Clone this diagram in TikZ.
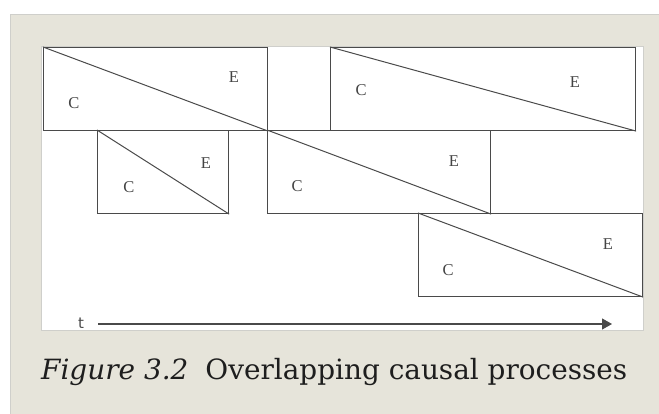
\documentclass[tikz,border=0pt]{standalone}
\usepackage{fontspec}
\setmainfont{Liberation Serif}
\newfontfamily\captionfont{DejaVu Serif}
\newfontfamily\axisfont{DejaVu Sans}
\usetikzlibrary{arrows.meta}
\definecolor{pagebg}{HTML}{E6E4DA}
\definecolor{frameline}{HTML}{CFCFCB}
\definecolor{boxline}{HTML}{4A4A4A}
\definecolor{labelink}{HTML}{444444}
\definecolor{captionink}{HTML}{1E1E1E}
\tikzset{
  process/.style={draw=boxline, line width=1.1pt, fill=white, rectangle, inner sep=0pt, anchor=north west},
  diag/.style={draw=boxline, line width=1pt},
  lbl/.style={text=labelink, inner sep=0pt, font=\fontsize{16.5}{16.5}\selectfont},
  axis/.style={draw=boxline, line width=1.2pt, -{Triangle[length=10pt,width=11pt]}},
}
\begin{document}
\begin{tikzpicture}[x=1pt,y=1pt]
  \useasboundingbox (0,0) rectangle (659,-414);
  % page background and white drawing panel
  \fill[white] (0,0) rectangle (659,-414);
  \fill[pagebg] (10,-14) rectangle (659,-414);
  \draw[frameline, line width=1pt] (10.5,-414) -- (10.5,-14.5) -- (659,-14.5);
  \draw[frameline, line width=1pt, fill=white] (41.5,-46.5) rectangle (643,-330);

  % causal processes: each box runs from cause (C) to effect (E)
  \node[process, minimum width=224pt, minimum height=83pt] (p1) at (43,-47) {};
  \node[process, minimum width=305pt, minimum height=83pt] (p4) at (330,-47) {};
  \node[process, minimum width=131pt, minimum height=83pt] (p2) at (97,-130) {};
  \node[process, minimum width=223pt, minimum height=83pt] (p3) at (267,-130) {};
  \node[process, minimum width=224pt, minimum height=83pt] (p5) at (418,-213) {};

  \foreach \p in {p1,p2,p3,p4,p5}
    \draw[diag] (\p.north west) -- (\p.south east);

  \node[lbl] (c1) at (74,-103) {C};
  \node[lbl] (e1) at (234,-77) {E};
  \node[lbl] (c2) at (129,-187) {C};
  \node[lbl] (e2) at (206,-163) {E};
  \node[lbl] (c3) at (297,-186) {C};
  \node[lbl] (e3) at (454,-161) {E};
  \node[lbl] (c4) at (361,-90) {C};
  \node[lbl] (e4) at (575,-82) {E};
  \node[lbl] (c5) at (448,-270) {C};
  \node[lbl] (e5) at (608,-244) {E};

  % time axis
  \node[text=boxline, inner sep=0pt, anchor=base, font=\axisfont\fontsize{15}{15}\selectfont] (t) at (81,-328) {t};
  \coordinate (tstart) at (98,-324);
  \coordinate (tend) at (612,-324);
  \draw[axis] (tstart) -- (tend);

  % caption
  \node[anchor=base west, inner sep=0pt, text=captionink, font=\captionfont\fontsize{27.9}{27.9}\selectfont] (cap) at (41,-379)
    {\textit{Figure 3.2}\hspace{17pt}Overlapping causal processes};
\end{tikzpicture}
\end{document}
